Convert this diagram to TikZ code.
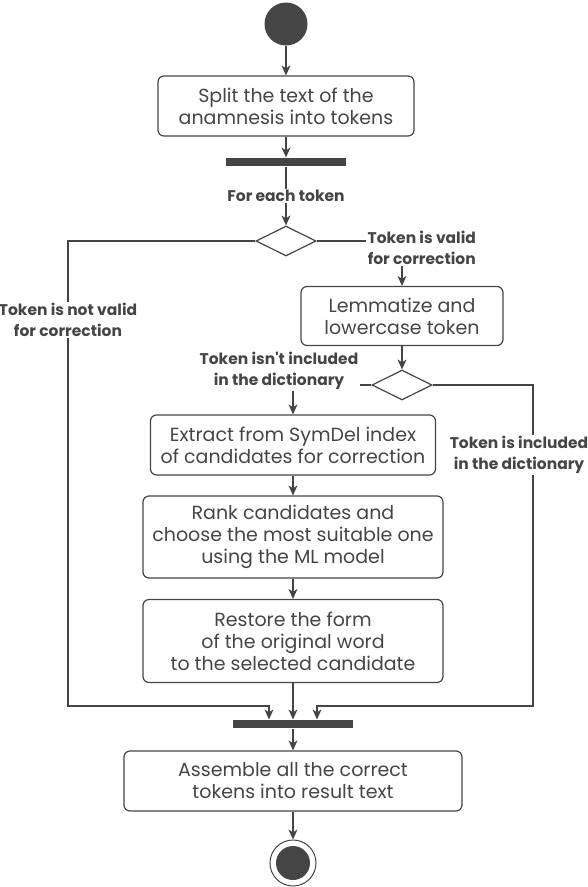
\documentclass[tikz,border=0pt]{standalone}
\usepackage{fontspec}
\setmainfont{Poppins}
\usetikzlibrary{arrows.meta, shapes.geometric, positioning}
\definecolor{ink}{HTML}{454545}
\begin{document}
\begin{tikzpicture}[x=1pt, y=-1pt, line width=1.2pt, color=ink,
  act/.style={draw, rounded corners=6pt, align=center, inner sep=0pt, font=\fontsize{19}{22}\selectfont},
  bar/.style={fill, minimum width=120pt, minimum height=8pt, inner sep=0pt},
  decide/.style={diamond, draw, fill=white, aspect=2, minimum width=60pt, minimum height=30pt, inner sep=0pt},
  guard/.style={fill=white, align=center, inner sep=1pt, font=\bfseries\fontsize{15.5}{20.5}\selectfont},
  flow/.style={-{Stealth[length=10pt, width=9pt, inset=3pt]}}]
\useasboundingbox (0,0) rectangle (588,887);
\node[circle, fill, minimum size=43pt, inner sep=0pt] (start) at (286,24) {};
\node[act, minimum width=256pt, minimum height=60pt] (split) at (286,106) {Split the text of the\\anamnesis into tokens};
\node[bar] (fork) at (286,162) {};
\node[decide] (valid) at (286,241) {};
\node[act, minimum width=202pt, minimum height=59pt] (lemma) at (402,316) {Lemmatize and\\lowercase token};
\node[decide] (dict) at (402,385) {};
\node[act, minimum width=285pt, minimum height=60pt] (extract) at (293,445) {Extract from SymDel index\\of candidates for correction};
\node[act, minimum width=300pt, minimum height=82pt] (rank) at (293,537) {Rank candidates and\\choose the most suitable one\\using the ML model};
\node[act, minimum width=300pt, minimum height=83pt] (restore) at (293,641) {Restore the form\\of the original word\\to the selected candidate};
\node[bar] (join) at (293,724) {};
\node[act, minimum width=338pt, minimum height=60pt] (assemble) at (293,781) {Assemble all the correct\\tokens into result text};
\node[circle, draw, line width=1pt, minimum size=46pt, inner sep=0pt] (stop) at (293,863) {};
\node[circle, fill, minimum size=34pt, inner sep=0pt] at (stop) {};

\node[guard, anchor=west] (isvalid) at (366,248) {Token is valid\\for correction};
\node[guard] (notincl) at (279,371) {Token isn\textquotesingle t included\\in the dictionary};

\draw[flow] (start) -- (split);
\draw[flow] (split) -- (fork);
\draw[flow] (fork) -- (valid);
\draw[flow] (valid.west) -| (68,706) -| ([xshift=-24pt]join.north);
\draw (valid.east) -- (valid.east -| isvalid.west);
\draw[flow] (isvalid.south -| lemma.north) -- (lemma);
\draw[flow] (lemma) -- (dict);
\draw (dict.west) -- (dict.west -| notincl.east);
\draw[flow] (notincl.south -| extract.north) -- (extract);
\draw[flow] (dict.east) -| (533,706) -| ([xshift=24pt]join.north);
\draw[flow] (extract) -- (rank);
\draw[flow] (rank) -- (restore);
\draw[flow] (restore) -- (join);
\draw[flow] (join) -- (assemble);
\draw[flow] (assemble) -- (stop);

\node[guard] (each) at (286,196) {For each token};
\node[guard] (notvalid) at (68,320) {Token is not valid\\for correction};
\node[guard] (incl) at (519,455) {Token is included\\in the dictionary};
\end{tikzpicture}
\end{document}
